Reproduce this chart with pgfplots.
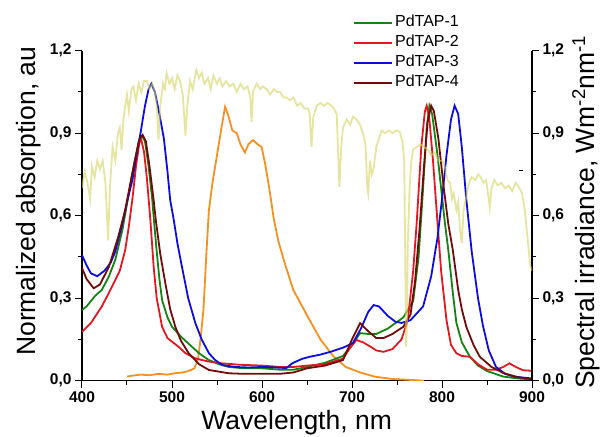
\documentclass[border=0pt]{standalone}
\usepackage{pgfplots}
\pgfplotsset{compat=1.18}
\usepackage{fontspec}
\setmainfont{Liberation Sans}
\setsansfont{Liberation Sans}

\definecolor{cgreen}{RGB}{20,130,20}
\definecolor{cred}{RGB}{228,22,32}
\definecolor{cblue}{RGB}{12,12,222}
\definecolor{cmaroon}{RGB}{115,10,10}
\definecolor{corange}{RGB}{245,145,30}
\definecolor{csun}{RGB}{212,212,95}

\begin{document}
\begin{tikzpicture}
\pgfplotsset{
  common/.style={
    scale only axis, width=450pt, height=330pt,
    xmin=400, xmax=900, ymin=0, ymax=1.2,
    tick align=outside, major tick length=7pt, minor tick length=4pt,
    every tick/.style={black, line width=1pt},
    axis line style={-, line width=1.2pt},
    /pgf/number format/assume math mode=true,
    tick label style={font=\fontsize{15.5}{15.5}\selectfont\bfseries},
    label style={font=\fontsize{26.5}{26.5}\selectfont},
    ytick={0,0.3,0.6,0.9,1.2}, minor ytick={0.15,0.45,0.75,1.05},
    yticklabel style={/pgf/number format/fixed, /pgf/number format/fixed zerofill,
      /pgf/number format/precision=1, /pgf/number format/use comma},
  }
}
\begin{axis}[common,
  axis x line*=bottom, axis y line*=left,
  xtick={400,500,600,700,800,900}, minor xtick={450,550,650,750,850},
  xticklabel style={/pgf/number format/1000 sep={}},
  xlabel={Wavelength, nm}, ylabel={Normalized absorption, au},
  xlabel style={at={(axis description cs:0.477,-0.128)}, anchor=center},
  ylabel style={at={(axis description cs:-0.118,0.544)}, anchor=center},
  legend style={at={(axis description cs:0.602,1.113)}, anchor=north west, draw=none, fill=none,
    inner sep=0pt, font=\fontsize{16}{16}\selectfont, row sep=2pt, cells={anchor=west},
    nodes={inner sep=2pt, text height=11pt, text depth=3pt}},
  legend image code/.code={\draw[#1, line width=2pt] (0pt,0pt) -- (38pt,0pt);},
  every axis plot/.append style={line width=1.8pt},
]
% orange
\addplot[corange, forget plot] coordinates {
(450,0.015) (455,0.018) (465,0.022) (475,0.02) (485,0.025) (495,0.022) (503,0.027) (512,0.03)
(518,0.035) (525,0.045) (529,0.08) (532,0.16) (535,0.26) (538,0.45) (541,0.62) (545,0.72)
(550,0.82) (555,0.92) (559,0.996) (563,0.96) (567,0.91) (572,0.90) (576,0.86) (581,0.83)
(585,0.86) (590,0.875) (595,0.86) (599.6,0.85) (604,0.78) (609,0.68) (613,0.59) (618,0.51)
(625,0.43) (634.8,0.33) (643,0.28) (653,0.22) (665,0.15) (679,0.09) (693,0.05) (709,0.03)
(725,0.015) (745,0.006) (770,0.002) (780,0.0)};
% PdTAP-1
\addplot[cgreen] coordinates {
(400,0.257) (405,0.27) (410,0.29) (415,0.31) (422,0.33) (430,0.38) (437,0.44) (445,0.55)
(452,0.68) (458,0.79) (463,0.87) (467,0.89) (470,0.87) (474,0.78) (478,0.66) (480,0.58)
(483,0.47) (486,0.37) (489,0.293) (495,0.23) (500,0.196) (510,0.16) (518,0.136) (530,0.10)
(541,0.075) (552,0.06) (563,0.05) (580,0.045) (600,0.045) (620,0.04) (635,0.04) (650,0.05)
(670,0.065) (690,0.09) (700,0.13) (709,0.173) (718,0.17) (727,0.17) (740,0.19) (757,0.23)
(768,0.29) (774,0.45) (779,0.70) (783,0.92) (786,1.0) (789,0.97) (795,0.82) (803,0.58)
(807,0.475) (812,0.32) (816,0.21) (822,0.14) (831,0.087) (840,0.055) (850,0.035)
(868,0.015) (885,0.008) (900,0.005)};
\addlegendentry{PdTAP-1}
% PdTAP-2
\addplot[cred] coordinates {
(400,0.178) (410,0.21) (422,0.27) (430,0.32) (437,0.366) (442,0.40) (448,0.475) (452,0.56)
(456,0.66) (460,0.78) (464,0.87) (466,0.875) (469,0.83) (472,0.74) (476,0.584) (479.6,0.415)
(483,0.30) (489,0.196) (495,0.155) (507,0.124) (515,0.10) (526,0.081) (540,0.07) (556,0.063)
(575,0.058) (600,0.055) (620,0.05) (635,0.05) (650,0.055) (670,0.06) (690,0.08) (698,0.12)
(705,0.148) (712,0.14) (720,0.125) (727,0.11) (735,0.105) (745,0.115) (755,0.15) (762,0.22)
(768,0.40) (772,0.58) (777,0.85) (781,0.98) (783,1.0) (786,0.95) (790,0.80) (794,0.62)
(799,0.40) (805,0.22) (810,0.13) (816,0.10) (822,0.09) (831,0.087) (840,0.06) (850,0.04)
(860,0.04) (868,0.05) (875,0.063) (882,0.05) (890,0.038) (900,0.036)};
\addlegendentry{PdTAP-2}
% PdTAP-3
\addplot[cblue] coordinates {
(400,0.457) (405,0.42) (410,0.39) (417,0.38) (425,0.40) (432,0.43) (437,0.47) (444,0.56)
(450,0.65) (456,0.73) (461,0.83) (465,0.90) (470,1.00) (474,1.06) (477,1.08) (481,1.05)
(486,0.97) (491,0.88) (495,0.76) (498,0.657) (502,0.584) (506,0.50) (511,0.415) (518,0.30)
(526,0.209) (533,0.15) (541,0.10) (548,0.075) (556,0.057) (570,0.05) (585,0.048) (601,0.05)
(615,0.048) (627,0.046) (634,0.064) (645,0.08) (653,0.087) (665,0.095) (676,0.105)
(690,0.12) (701,0.137) (710,0.19) (718,0.25) (724,0.275) (730,0.27) (740,0.235) (748,0.215)
(755,0.21) (765,0.22) (779,0.27) (788,0.38) (795,0.52) (800,0.66) (805,0.82) (810,0.95)
(814,1.0) (818,0.97) (822,0.85) (827,0.66) (833,0.47) (840,0.30) (845.5,0.2) (852,0.11)
(860,0.05) (870,0.025) (880,0.015) (900,0.008)};
\addlegendentry{PdTAP-3}
% PdTAP-4
\addplot[cmaroon] coordinates {
(400,0.41) (405,0.37) (413,0.336) (420,0.35) (430,0.415) (440,0.52) (448,0.62) (455,0.74)
(460,0.82) (464,0.88) (467.4,0.894) (471,0.87) (475,0.78) (479.6,0.657) (482,0.584)
(487,0.46) (492.6,0.354) (498,0.26) (503.7,0.196) (510,0.145) (518.5,0.1) (530,0.06)
(541,0.039) (563,0.027) (580,0.025) (600,0.025) (620,0.025) (635,0.03) (650,0.045)
(670,0.055) (690,0.075) (700,0.15) (709,0.209) (718,0.18) (727,0.155) (735,0.155)
(745,0.17) (757,0.196) (765,0.24) (770,0.36) (775,0.55) (780,0.78) (784,0.94) (788,1.0)
(791,0.98) (796,0.88) (802,0.70) (807,0.57) (812,0.475) (818,0.33) (822,0.26) (827,0.196)
(835,0.13) (842,0.087) (855,0.05) (868,0.028) (885,0.012) (900,0.006)};
\addlegendentry{PdTAP-4}
\end{axis}
\begin{axis}[common,
  axis x line=none, axis y line*=right,
  ylabel={Spectral irradiance, Wm\textsuperscript{-2}nm\textsuperscript{-1}},
  ylabel style={at={(axis description cs:1.12,0.511)}, anchor=center},
]
\addplot[csun, line width=1.8pt, opacity=0.6] coordinates {
(400,0.70) (403,0.76) (406,0.72) (409,0.66) (411,0.78) (414,0.74) (417,0.80) (420,0.77)
(423,0.80) (426,0.72) (429,0.51) (431,0.70) (434,0.85) (437,0.80) (440,0.90) (442,0.92)
(444,0.84) (446,0.95) (448,1.00) (450,1.04) (452,0.98) (455,1.06) (457,1.07) (460,1.02)
(463,1.08) (466,1.05) (469,1.09) (472,1.09) (475,1.06) (478,1.08) (481,1.05) (483,1.00)
(485,0.875) (487,1.00) (490,1.08) (492,1.06) (494,1.12) (497,1.08) (500,1.10) (503,1.06)
(506,1.11) (509,1.09) (512,1.04) (515,0.89) (517,1.00) (520,1.09) (523,1.06) (527,1.13)
(530,1.10) (533,1.12) (536,1.08) (540,1.10) (543,1.06) (546,1.11) (550,1.08) (553,1.10)
(556,1.07) (560,1.09) (564,1.07) (568,1.08) (572,1.05) (576,1.08) (580,1.06) (584,1.07)
(587,1.03) (588.5,0.94) (590,1.05) (594,1.08) (598,1.06) (601,1.07) (605,1.06) (609,1.04)
(613,1.06) (617,1.05) (620,1.05) (624,1.03) (627,1.03) (631,1.02) (635,1.03) (639,1.00)
(643,1.01) (647,0.99) (651,0.99) (653,0.97) (655,0.85) (657,0.96) (661,1.00) (665,1.01)
(669,1.00) (673,1.01) (677,1.00) (680,0.99) (683,0.97) (686,0.705) (688,0.85) (690,0.92)
(694,0.95) (698,0.93) (701,0.96) (705,0.95) (709,0.93) (712,0.90) (715,0.86) (717,0.70)
(718,0.68) (720,0.80) (722,0.75) (724,0.77) (727,0.85) (730,0.88) (733,0.91) (737,0.90)
(741,0.91) (745,0.90) (749,0.91) (753,0.905) (756,0.87) (758,0.80) (759,0.50) (760,0.124)
(761,0.20) (762,0.50) (764,0.70) (766,0.80) (768,0.84) (772,0.85) (776,0.86) (780,0.85)
(784,0.84) (788,0.82) (792,0.83) (796,0.80) (800,0.80) (803,0.78) (806,0.73) (809,0.72)
(811,0.66) (813,0.68) (816,0.62) (818,0.65) (820,0.55) (822,0.50) (824,0.62) (827,0.67)
(830,0.72) (833,0.74) (837,0.73) (840,0.75) (843,0.74) (846,0.72) (849,0.73) (852,0.66)
(853,0.63) (855,0.70) (858,0.73) (862,0.71) (866,0.72) (870,0.70) (874,0.71) (878,0.69)
(882,0.72) (886,0.70) (889,0.68) (892,0.62) (895,0.52) (898,0.42) (900,0.40)};
\addplot[black, only marks, mark=-, mark size=2.2pt, mark options={line width=1.6pt}] coordinates {(888,0.765)};
\end{axis}
\pgfresetboundingbox
\useasboundingbox (-82pt,-55.3pt) rectangle (519pt,380.7pt);
\end{tikzpicture}
\end{document}
